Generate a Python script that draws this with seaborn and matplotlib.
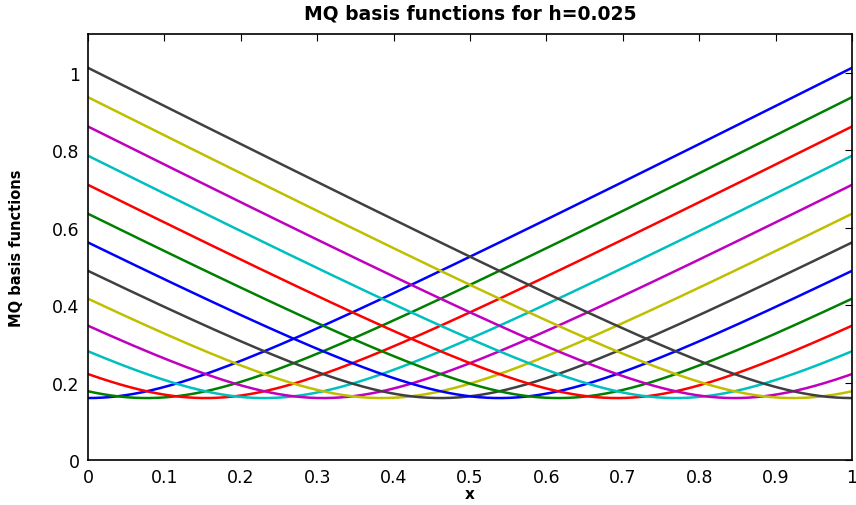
import numpy as np
import pandas as pd
import matplotlib
matplotlib.use("Agg")
import matplotlib.pyplot as plt
import seaborn as sns

# Multiquadric basis: phi_j(x) = sqrt((x - x_j)^2 + c^2)
centers = [0.0, 1/13, 2/13, 3/13, 4/13, 5/13, 6/13, 7/13, 8/13, 9/13,
           10/13, 11/13, 12/13, 1.0]
shape_c = 0.16
h = 0.025
x_ticks = [0, 0.1, 0.2, 0.3, 0.4, 0.5, 0.6, 0.7, 0.8, 0.9, 1]
y_ticks = [0, 0.2, 0.4, 0.6, 0.8, 1]

# classic MATLAB line colour order
line_colors = [(0, 0, 1), (0, 0.5, 0), (1, 0, 0), (0, 0.75, 0.75),
               (0.75, 0, 0.75), (0.75, 0.75, 0), (0.25, 0.25, 0.25)]

x = np.linspace(0, 1, 401)
frames = []
for j, xc in enumerate(centers):
    frames.append(pd.DataFrame({"x": x,
                                "phi": np.sqrt((x - xc) ** 2 + shape_c ** 2),
                                "basis": j}))
df = pd.concat(frames, ignore_index=True)

sns.set_theme(style="white")
plt.rcParams["font.family"] = ["DejaVu Sans"]
plt.rcParams["text.color"] = "black"
plt.rcParams["axes.labelcolor"] = "black"

fig = plt.figure(figsize=(8.56, 5.06), dpi=100)
ax = fig.add_axes([0.1028, 0.0889, 0.8925, 0.8419])

palette = [line_colors[j % len(line_colors)] for j in range(len(centers))]
sns.lineplot(data=df, x="x", y="phi", hue="basis", palette=palette,
             linewidth=1.8, legend=False, ax=ax, sort=False)

ax.set_xlim(0, 1)
ax.set_ylim(0, 1.1)
ax.set_xticks(x_ticks)
ax.set_xticklabels([f"{t:g}" for t in x_ticks])
ax.set_yticks(y_ticks)
ax.set_yticklabels([f"{t:g}" for t in y_ticks])
ax.tick_params(direction="in", top=True, right=True, length=5, width=0.8,
               labelsize=12.5, colors="black", pad=6)
for s in ax.spines.values():
    s.set_visible(True)
    s.set_color("black")
    s.set_linewidth(1.2)

ax.set_title(f"MQ basis functions for h={h}", fontsize=13.5,
             fontweight="bold", pad=11, color="black")
ax.set_xlabel("x", fontsize=11, fontweight="bold", labelpad=0)
ax.set_ylabel("MQ basis functions", fontsize=10.5, fontweight="bold",
              labelpad=20)

fig.savefig("out.png", dpi=100)
